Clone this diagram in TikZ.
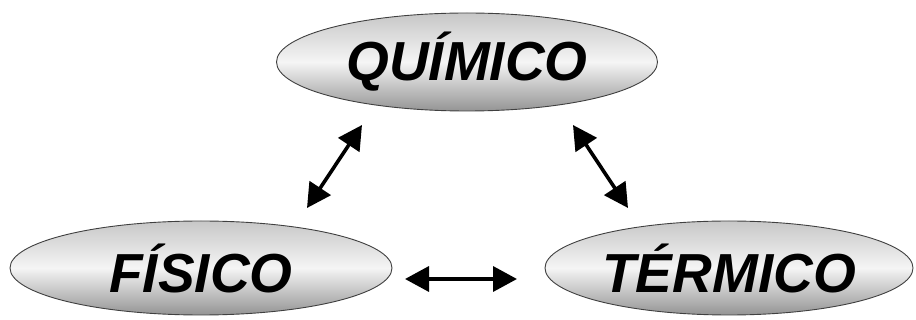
\documentclass[tikz,border=0pt]{standalone}
\usepackage{fontspec}
\setmainfont{Liberation Sans}
\usetikzlibrary{shapes.geometric,arrows.meta}
\tikzset{
  oval/.style={ellipse, draw=black!75, line width=0.9pt,
    top color=black!22, bottom color=black!42, middle color=black!4,
    inner sep=0pt,
    font=\fontsize{55}{60}\selectfont\bfseries\itshape},
  link/.style={line width=3.6pt, {Triangle[length=24pt,width=25pt]}-{Triangle[length=24pt,width=25pt]}}
}
\begin{document}
\begin{tikzpicture}[x=1pt,y=-1pt]
\useasboundingbox (0,0) rectangle (916,320);
\node[oval, minimum width=381pt, minimum height=98pt] (quim) at (467,62) {QUÍMICO};
\node[oval, minimum width=382pt, minimum height=94pt] (fis) at (201,268) {FÍSICO};
\node[oval, minimum width=368pt, minimum height=94pt] (term) at (729,268) {TÉRMICO};
\coordinate (a1) at (307,208);
\coordinate (a2) at (362,125);
\coordinate (b1) at (573,125);
\coordinate (b2) at (628,208);
\coordinate (c1) at (405,279);
\coordinate (c2) at (517,279);
\draw[link] (a1) -- (a2);
\draw[link] (b1) -- (b2);
\draw[link] (c1) -- (c2);
\end{tikzpicture}
\end{document}
